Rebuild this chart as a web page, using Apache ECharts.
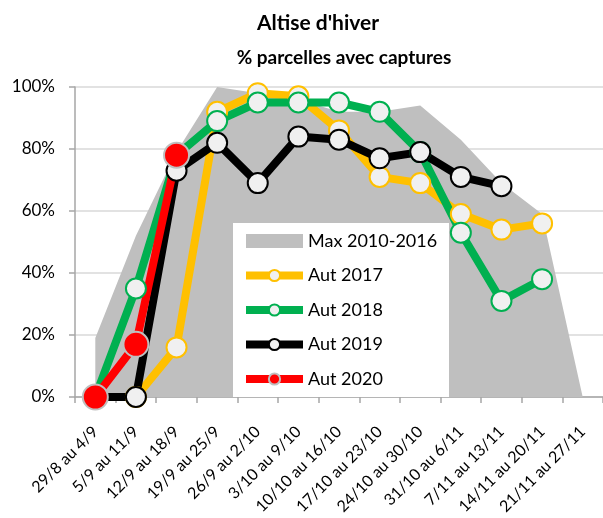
<!DOCTYPE html>
<html>
<head>
<meta charset="utf-8">
<script src="https://cdn.jsdelivr.net/npm/echarts@6/dist/echarts.min.js"></script>
<style>
    html, body { margin: 0; padding: 0; background: #fff; }
    #main { width: 603px; height: 518px; }
</style>
</head>
<body>
<div id="main"></div>
<script>
// semaines
let weeks = ["29/8 au 4/9", "5/9 au 11/9", "12/9 au 18/9", "19/9 au 25/9", "26/9 au 2/10", "3/10 au 9/10",
    "10/10 au 16/10", "17/10 au 23/10", "24/10 au 30/10", "31/10 au 6/11", "7/11 au 13/11", "14/11 au 20/11", "21/11 au 27/11"];
// % parcelles avec captures
let max2010_2016 = [19, 52, 79, 100, 98, 96, 92, 92, 94, 83, 69, 59, 0];
let aut2017 = ["-", 0, 16, 92, 98, 97, 86, 71, 69, 59, 54, 56, "-"];
let aut2018 = [0, 35, 78, 89, 95, 95, 95, 92, 79, 53, 31, 38, "-"];
let aut2019 = [0, 0, 73, 82, 69, 84, 83, 77, 79, 71, 68, "-", "-"];
let aut2020 = [0, 17, 78, "-", "-", "-", "-", "-", "-", "-", "-", "-", "-"];
let yTicks = [0, 20, 40, 60, 80, 100];

let font = "Lato";
let myChart = echarts.init(document.getElementById("main"));

// serie ligne avec marqueurs
function lineSerie(name, data, color, opts) {
    opts = opts || {};
    return {
        name: name,
        type: "line",
        data: data,
        z: 3,
        symbol: "circle",
        symbolSize: opts.size || 20,
        lineStyle: { color: color, width: 8 },
        itemStyle: {
            color: opts.fill || "#F0F0F0",
            borderColor: opts.border || color,
            borderWidth: 2
        },
        emphasis: { disabled: true }
    };
}

myChart.setOption({
    animation: false,
    title: [
        {
            text: "Altise d'hiver",
            left: 313,
            top: 8,
            textAlign: "center",
            textStyle: { fontFamily: font, fontSize: 21, fontWeight: "bold", color: "#000" }
        },
        {
            text: "% parcelles avec captures",
            left: 339,
            top: 43,
            textAlign: "center",
            textStyle: { fontFamily: font, fontSize: 19, fontWeight: "bold", color: "#000" }
        }
    ],
    grid: { left: 75, right: 0, top: 87, bottom: 121 },
    // cadre blanc de la legende
    graphic: [{
        type: "rect",
        left: 233,
        top: 223,
        z: 2,
        shape: { width: 216, height: 174 },
        style: { fill: "#fff" }
    }],
    legend: {
        orient: "vertical",
        left: 242,
        top: 232,
        padding: 0,
        itemWidth: 57,
        itemHeight: 14,
        itemGap: 16.5,
        lineStyle: { width: 8 },
        textStyle: { fontFamily: font, fontSize: 18, lineHeight: 18, color: "#000" },
        data: [
            { name: "Max 2010-2016", icon: "rect" },
            "Aut 2017", "Aut 2018", "Aut 2019", "Aut 2020"
        ]
    },
    xAxis: {
        type: "category",
        data: weeks,
        boundaryGap: true,
        axisLine: { lineStyle: { color: "#A6A6A6", width: 1.5 } },
        axisTick: { show: true, length: 6, lineStyle: { color: "#A6A6A6", width: 1.5 } },
        axisLabel: {
            interval: 0,
            rotate: 45,
            margin: 32,
            fontFamily: font,
            fontSize: 16,
            color: "#000"
        }
    },
    yAxis: {
        type: "value",
        min: yTicks[0],
        max: yTicks[yTicks.length - 1],
        interval: 20,
        axisLine: { show: true, lineStyle: { color: "#A6A6A6", width: 1.5 } },
        axisTick: { show: true, length: 6, lineStyle: { color: "#A6A6A6", width: 1.5 } },
        splitLine: { lineStyle: { color: "#D9D9D9", width: 1.5 } },
        axisLabel: {
            formatter: "{value}%",
            margin: 20,
            fontFamily: font,
            fontSize: 17,
            color: "#000"
        }
    },
    series: [
        {
            name: "Max 2010-2016",
            type: "line",
            data: max2010_2016,
            z: 1,
            symbol: "none",
            lineStyle: { width: 0 },
            itemStyle: { color: "#BFBFBF" },
            areaStyle: { color: "#BFBFBF", opacity: 1 },
            emphasis: { disabled: true }
        },
        lineSerie("Aut 2017", aut2017, "#FFC000"),
        lineSerie("Aut 2018", aut2018, "#00B050"),
        lineSerie("Aut 2019", aut2019, "#000000"),
        lineSerie("Aut 2020", aut2020, "#FF0000", { size: 25, fill: "#FF0000", border: "#BFBFBF" })
    ]
});
</script>
</body>
</html>
